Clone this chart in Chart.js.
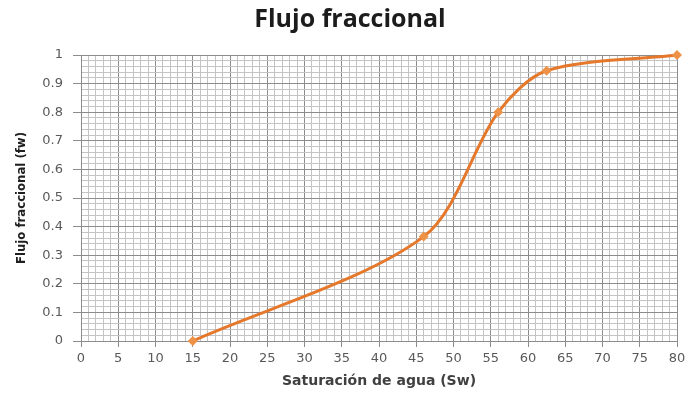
<!DOCTYPE html>
<html>
<head>
<meta charset="utf-8">
<script src="https://cdn.jsdelivr.net/npm/chart.js@4"></script>
<style>
  html, body { margin: 0; padding: 0; background: #fff; }
  #grafica { display: block; }
</style>
</head>
<body>
<canvas id="grafica" width="686" height="394"></canvas>
<script>
// datos
const satAgua = [15, 46, 56, 62.5, 80];
const flujo = [0, 0.365, 0.8, 0.945, 1];

const xMin = 0, xMax = 80, xPaso = 1, xMayor = 5;
const yMin = 0, yMax = 1, yPaso = 0.02;

const colorMayor = "#8c8c8c";
const colorMenor = "#c4c4c4";
const naranja = "#e5782b";

const puntos = satAgua.map((x, i) => ({ x: x, y: flujo[i] }));

const esMayorX = v => Math.round(v) % xMayor === 0;
const esMayorY = v => Math.round(v * 50) % 5 === 0;

new Chart(document.getElementById("grafica"), {
    type: "line",
    data: {
        datasets: [{
            data: puntos,
            borderColor: naranja,
            backgroundColor: "#ee9247",
            borderWidth: 3,
            tension: 0.3,
            pointStyle: "rectRot",
            pointRadius: 5,
            pointBorderWidth: 0,
            clip: false
        }]
    },
    options: {
        responsive: false,
        animation: false,
        devicePixelRatio: 1,
        layout: { padding: { left: 14, right: 0, top: 0, bottom: 0 } },
        plugins: {
            legend: { display: false },
            tooltip: { enabled: false },
            title: {
                display: true,
                text: "Flujo fraccional",
                color: "#1c1c1c",
                font: { family: "Open Sans", size: 25, weight: "bold" },
                padding: { top: 5, bottom: 20 }
            }
        },
        scales: {
            x: {
                type: "linear",
                min: xMin,
                max: xMax,
                afterFit: s => { s.height = 53; s.paddingRight = 9; },
                border: { color: colorMayor },
                grid: {
                    color: c => esMayorX(c.tick.value) ? colorMayor : colorMenor,
                    tickColor: c => esMayorX(c.tick.value) ? colorMayor : "rgba(0,0,0,0)",
                    tickLength: 6
                },
                ticks: {
                    stepSize: xPaso,
                    autoSkip: false,
                    maxRotation: 0,
                    padding: 4,
                    color: "#595959",
                    font: { family: "DejaVu Sans", size: 13 },
                    callback: v => esMayorX(v) ? String(Math.round(v)) : ""
                },
                title: {
                    display: true,
                    text: "Saturación de agua (Sw)",
                    color: "#404040",
                    font: { family: "DejaVu Sans", size: 14, weight: "bold" },
                    padding: { top: 0, bottom: 4 }
                }
            },
            y: {
                min: yMin,
                max: yMax,
                afterFit: s => { s.width = 67; },
                border: { color: colorMayor },
                grid: {
                    color: c => esMayorY(c.tick.value) ? colorMayor : colorMenor,
                    tickColor: c => esMayorY(c.tick.value) ? colorMayor : "rgba(0,0,0,0)",
                    tickLength: 8
                },
                ticks: {
                    stepSize: yPaso,
                    autoSkip: false,
                    padding: 10,
                    color: "#595959",
                    font: { family: "DejaVu Sans", size: 13 },
                    callback: v => esMayorY(v) ? String(Math.round(v * 10) / 10) : ""
                },
                title: {
                    display: true,
                    text: "Flujo fraccional (fw)",
                    color: "#202020",
                    font: { family: "Liberation Sans Narrow, DejaVu Sans Condensed, sans-serif", size: 13, weight: "bold" },
                    padding: 0
                }
            }
        }
    }
});
</script>
</body>
</html>
